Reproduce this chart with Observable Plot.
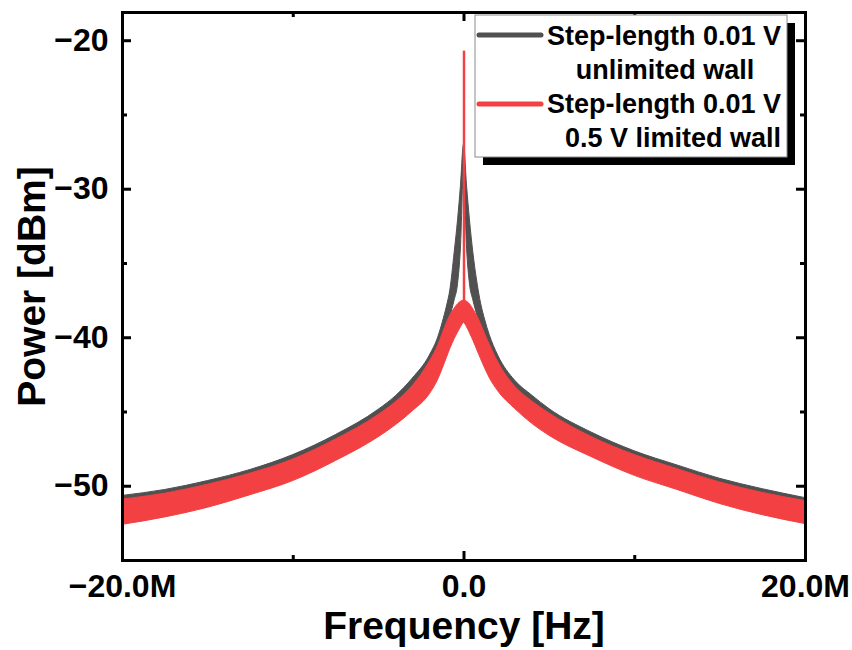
<!DOCTYPE html>
<html>
<head>
<meta charset="utf-8">
<script src="https://cdn.jsdelivr.net/npm/d3@7"></script>
<script src="https://cdn.jsdelivr.net/npm/@observablehq/plot@0.6"></script>
<style>
  body { margin: 0; background: white; }
  #chart { position: relative; width: 852px; height: 650px; font-family: "Liberation Sans", Arial, sans-serif; font-weight: bold; }
  #chart svg { font-weight: bold; }
  #legend { position: absolute; left: 0; top: 0; pointer-events: none; }
</style>
</head>
<body>
<div id="chart"></div>
<script>
// ---- data (frequency in MHz, power in dBm) ----
const freqMHz = [-20,-17.5,-15,-12.5,-10,-7.5,-5,-4,-3,-2,-1.5,-1.25,-1,-0.8,-0.55,-0.35,-0.18,0,0.18,0.35,0.55,0.8,1,1.25,1.5,2,3,4,5,7.5,10,12.5,15,17.5,20];
// "Step-length 0.01 V unlimited wall" noise band (upper / lower envelope)
const grayHigh = [-50.65,-50.25,-49.65,-48.9,-47.9,-46.55,-44.85,-43.95,-42.75,-41.2,-39.95,-39.0,-37.9,-36.8,-34.3,-32.1,-29.8,-27.0,-29.8,-32.1,-34.3,-36.4,-37.7,-38.85,-39.8,-41.2,-42.9,-43.9,-44.8,-46.4,-47.65,-48.6,-49.5,-50.2,-50.8];
const grayLow  = [-51.7,-51.2,-50.5,-49.6,-48.7,-47.4,-45.8,-45.0,-44.0,-42.3,-41.0,-40.2,-39.5,-38.6,-37.5,-36.4,-34.0,-28.8,-34.0,-36.4,-37.5,-38.6,-39.5,-40.2,-41.0,-42.3,-44.0,-45.0,-45.8,-47.4,-48.7,-49.6,-50.5,-51.2,-51.7];
// "Step-length 0.01 V 0.5 V limited wall" noise band (upper / lower envelope)
const redHigh  = [-50.9,-50.5,-49.9,-49.15,-48.2,-46.85,-45.2,-44.35,-43.25,-41.6,-40.5,-39.75,-39.0,-38.5,-38.05,-37.75,-37.58,-37.5,-37.58,-37.75,-38.1,-38.6,-39.1,-39.8,-40.45,-41.65,-43.3,-44.3,-45.1,-46.7,-47.9,-48.85,-49.75,-50.45,-51.0];
const redLow   = [-52.6,-52.1,-51.45,-50.6,-49.65,-48.3,-46.7,-45.9,-44.95,-43.8,-42.8,-42.1,-41.35,-40.75,-40.1,-39.65,-39.3,-39.0,-39.3,-39.7,-40.2,-40.9,-41.45,-42.1,-42.7,-43.6,-44.8,-45.8,-46.6,-48.05,-49.3,-50.25,-51.2,-51.95,-52.55];
// red carrier spike
const spikeFreq = [0];
const spikeBase = [-37.5];
const spikeTop  = [-20.7];

// axes
const xMajorTicks = [-20, 0, 20];
const xTickLabels = ["\u221220.0M", "0.0", "20.0M"];
const xMinorTicks = [-10, 10];
const yMajorTicks = [-50, -40, -30, -20];
const yTickLabels = ["\u221250", "\u221240", "\u221230", "\u221220"];
const yMinorTicks = [-45, -35, -25];
const xTitle = "Frequency [Hz]";
const yTitle = "Power [dBm]";
const seriesNames = [["Step-length 0.01 V", "unlimited wall"], ["Step-length 0.01 V", "0.5 V limited wall"]];
const seriesColors = ["#505050", "#f34043"];

// ---- build tables ----
const grayRows = freqMHz.map((f, i) => ({f, lo: grayLow[i], hi: grayHigh[i]}));
const redRows = freqMHz.map((f, i) => ({f, lo: redLow[i], hi: redHigh[i]}));
const spikeRows = spikeFreq.map((f, i) => ({f, y1: spikeBase[i], y2: spikeTop[i]}));

const W = 852, H = 650;
const mL = 122, mR = 47, mT = 12, mB = 90;
const innerW = W - mL - mR, innerH = H - mT - mB;
const majorLen = 9, minorLen = 5;
const font = "Liberation Sans, Arial, sans-serif";

const plot = Plot.plot({
  width: W, height: H,
  marginLeft: mL, marginRight: mR, marginTop: mT, marginBottom: mB,
  x: {domain: [-20, 20]},
  y: {domain: [-55, -18.1]},
  style: {fontFamily: font, fontWeight: "bold", color: "black", background: "white", overflow: "visible"},
  marks: [
    Plot.areaY(grayRows, {x: "f", y1: "lo", y2: "hi", fill: seriesColors[0], stroke: seriesColors[0], strokeWidth: 1, curve: "monotone-x"}),
    Plot.areaY(redRows, {x: "f", y1: "lo", y2: "hi", fill: seriesColors[1], stroke: seriesColors[1], strokeWidth: 1, curve: "monotone-x"}),
    Plot.ruleX(spikeRows, {x: "f", y1: "y1", y2: "y2", stroke: seriesColors[1], strokeWidth: 2.5}),
    Plot.frame({stroke: "black", strokeWidth: 3}),
    // inward ticks, bottom & top
    Plot.tickX(xMajorTicks, {x: d => d, insetTop: innerH - majorLen, stroke: "black", strokeWidth: 3}),
    Plot.tickX(xMajorTicks, {x: d => d, insetBottom: innerH - majorLen, stroke: "black", strokeWidth: 3}),
    Plot.tickX(xMinorTicks, {x: d => d, insetTop: innerH - minorLen, stroke: "black", strokeWidth: 3}),
    Plot.tickX(xMinorTicks, {x: d => d, insetBottom: innerH - minorLen, stroke: "black", strokeWidth: 3}),
    // inward ticks, left & right
    Plot.tickY(yMajorTicks, {y: d => d, insetRight: innerW - majorLen, stroke: "black", strokeWidth: 3}),
    Plot.tickY(yMajorTicks, {y: d => d, insetLeft: innerW - majorLen, stroke: "black", strokeWidth: 3}),
    Plot.tickY(yMinorTicks, {y: d => d, insetRight: innerW - minorLen, stroke: "black", strokeWidth: 3}),
    Plot.tickY(yMinorTicks, {y: d => d, insetLeft: innerW - minorLen, stroke: "black", strokeWidth: 3}),
    Plot.axisX(xMajorTicks, {tickSize: 0, tickPadding: 14, tickFormat: d => xTickLabels[xMajorTicks.indexOf(d)], fontSize: 32, fontWeight: "bold", label: null}),
    Plot.axisY(yMajorTicks, {tickSize: 0, tickPadding: 14, tickFormat: d => yTickLabels[yMajorTicks.indexOf(d)], fontSize: 32, fontWeight: "bold", label: null}),
    Plot.text([xTitle], {text: d => d, frameAnchor: "bottom", dy: 78, lineAnchor: "bottom", textAnchor: "middle", fontSize: 39, fontWeight: "bold"}),
    Plot.text([yTitle], {text: d => d, frameAnchor: "left", dx: -78, rotate: -90, lineAnchor: "bottom", textAnchor: "middle", fontSize: 39, fontWeight: "bold"})
  ]
});

const chart = document.getElementById("chart");
chart.appendChild(plot);

// ---- legend overlay ----
const lg = d3.select(chart).append("svg")
  .attr("id", "legend").attr("width", W).attr("height", H)
  .style("font-family", font).style("font-weight", "bold");
const bx = 475, by = 15, bw = 312, bh = 142;
lg.append("rect").attr("x", bx + 8).attr("y", by + 8).attr("width", bw).attr("height", bh).attr("fill", "black");
lg.append("rect").attr("x", bx).attr("y", by).attr("width", bw).attr("height", bh).attr("fill", "white").attr("stroke", "#8a8a8a").attr("stroke-width", 1);
const rowY = [35, 104];
const textRows = [[{t: seriesNames[0][0], x: 781, y: 45, a: "end"}, {t: seriesNames[0][1], x: 665, y: 79, a: "middle"}],
                  [{t: seriesNames[1][0], x: 781, y: 113, a: "end"}, {t: seriesNames[1][1], x: 781, y: 147, a: "end"}]];
seriesColors.forEach((c, i) => {
  lg.append("line").attr("x1", 479).attr("x2", 541).attr("y1", rowY[i]).attr("y2", rowY[i])
    .attr("stroke", c).attr("stroke-width", 5).attr("stroke-linecap", "round");
  textRows[i].forEach(r => {
    lg.append("text").attr("x", r.x).attr("y", r.y).attr("text-anchor", r.a)
      .attr("font-size", 27).attr("fill", "black").text(r.t);
  });
});
</script>
</body>
</html>
